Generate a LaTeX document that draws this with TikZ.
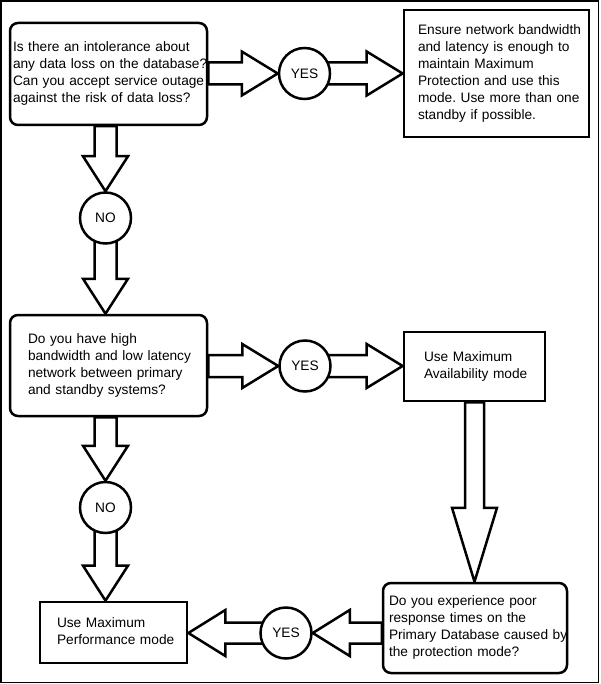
\documentclass[tikz,border=0pt]{standalone}
\usepackage{fontspec}
\setmainfont{Liberation Sans}
\usepackage{tikz}
\usetikzlibrary{calc,backgrounds}
\frenchspacing

% wide hollow arrow from #1 to #2: shaft half width #3, head half width #4, head length #5
\newcommand{\blockarrow}[5]{%
	\path (#1) coordinate (ba-s) (#2) coordinate (ba-t);
	\path ($(ba-t)!#5!(ba-s)$) coordinate (ba-b);
	\draw[hollow] ($(ba-s)!#3!90:(ba-t)$) -- ($(ba-b)!#3!90:(ba-t)$) -- ($(ba-b)!#4!90:(ba-t)$) -- (ba-t)
		-- ($(ba-b)!#4!-90:(ba-t)$) -- ($(ba-b)!#3!-90:(ba-t)$) -- ($(ba-s)!#3!-90:(ba-t)$) -- cycle;
}
% lines of a box, never broken again
\newcommand{\boxlines}[1]{\begin{tabular}{@{}l@{}}#1\end{tabular}}

\begin{document}
\begin{tikzpicture}[x=1pt,y=-1pt,font=\fontsize{13.7}{17}\selectfont,
	question/.style={draw,fill=white,rounded corners=8pt,line width=2.5pt,align=left,inner ysep=0pt},
	result/.style={draw,fill=white,line width=2.7pt,align=left,inner ysep=0pt},
	choice/.style={draw,fill=white,circle,line width=2.5pt,minimum size=51pt,inner sep=0pt},
	hollow/.style={draw,fill=white,line width=2.5pt,line join=miter}]
	\useasboundingbox (0,0) rectangle (600,684);
	\draw[line width=1.3pt] (1,1) rectangle (598.5,682.5);
	%% question boxes on the left and bottom right
	\node[question,minimum width=197pt,minimum height=102pt,inner xsep=3pt,text width=191pt] (q1) at (108.5,74)
		{\boxlines{Is there an intolerance about\\any data loss on the database?\\Can you accept service outage\\against the risk of data loss?}};
	\node[question,minimum width=197pt,minimum height=101pt,inner xsep=18pt,text width=161pt] (q2) at (108.5,365.5)
		{\boxlines{Do you have high\\bandwidth and low latency\\network between primary\\and standby systems?}};
	\node[question,minimum width=184pt,minimum height=90pt,inner xsep=6pt,text width=172pt] (q3) at (475,628)
		{\boxlines{Do you experience poor\\response times on the\\Primary Database caused by\\the protection mode?}};
	%% the three modes
	\node[result,minimum width=185pt,minimum height=127pt,inner xsep=14pt,text width=157pt] (prot) at (496.5,73.5)
		{\boxlines{Ensure network bandwidth\\and latency is enough to\\maintain Maximum\\Protection and use this\\mode. Use more than one\\standby if possible.}};
	\node[result,minimum width=141pt,minimum height=69pt,inner xsep=20pt,text width=101pt] (avail) at (474.5,366.5)
		{\boxlines{Use Maximum\\Availability mode}};
	\node[result,minimum width=147pt,minimum height=61pt,inner xsep=17pt,text width=113pt] (perf) at (113.5,632.5)
		{\boxlines{Use Maximum\\Performance mode}};
	%% answers
	\node[choice] (y1) at (304.5,73.5){YES};
	\node[choice] (n1) at (105.5,218){NO};
	\node[choice] (y2) at (305,366){YES};
	\node[choice] (n2) at (105.5,507.5){NO};
	\node[choice] (y3) at (286,633){YES};
	%% arrows go behind the boxes and circles
	\begin{pgfonlayer}{background}
		\blockarrow{q1.east |- y1}{y1.west}{11pt}{22pt}{36pt}
		\blockarrow{y1}{prot.west |- y1}{11pt}{22pt}{36pt}
		\blockarrow{q1.south -| n1}{n1.north}{11pt}{22.5pt}{35pt}
		\blockarrow{n1}{n1 |- q2.north}{11pt}{22.5pt}{35pt}
		\blockarrow{q2.east |- y2}{y2.west}{11pt}{22pt}{36pt}
		\blockarrow{y2}{avail.west |- y2}{11pt}{22pt}{36pt}
		\blockarrow{q2.south -| n2}{n2.north}{11pt}{22.5pt}{35pt}
		\blockarrow{n2}{n2 |- perf.north}{11pt}{22.5pt}{35pt}
		\blockarrow{avail.south}{avail.south |- q3.north}{9.5pt}{22.5pt}{74pt}
		\blockarrow{q3.west |- y3}{y3.east}{10.5pt}{23pt}{37pt}
		\blockarrow{y3}{perf.east |- y3}{10.5pt}{23pt}{37pt}
	\end{pgfonlayer}
\end{tikzpicture}
\end{document}
